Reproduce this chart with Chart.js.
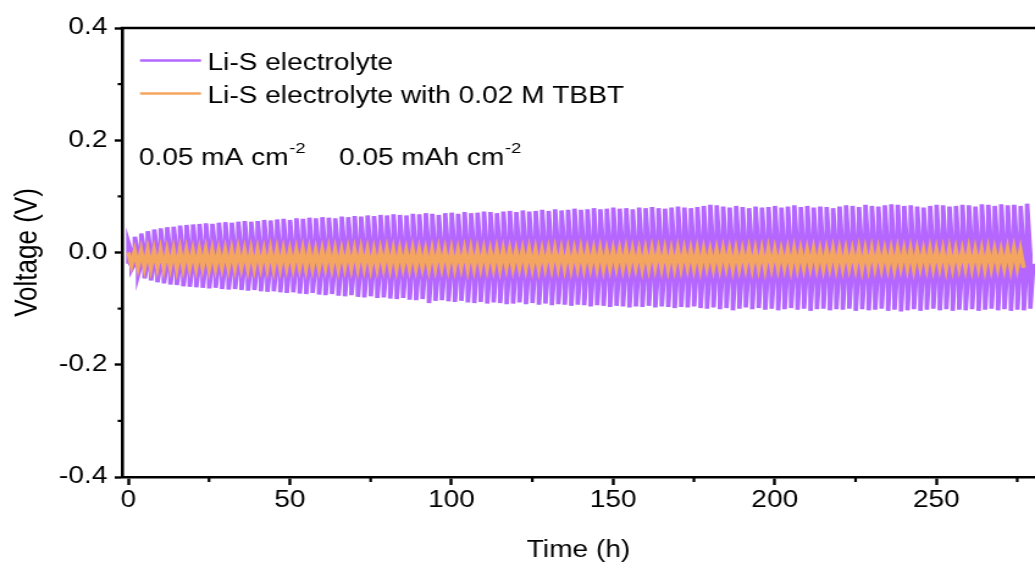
<!DOCTYPE html>
<html>
<head>
<meta charset="utf-8">
<script src="https://cdn.jsdelivr.net/npm/chart.js@4.4.1/dist/chart.umd.min.js"></script>
<style>
  html, body { margin: 0; padding: 0; background: #fff; overflow: hidden; }
  /* the figure is drawn narrow and stretched out sideways */
  #wrap { width: 848px; height: 568px; transform: scaleX(1.2205); transform-origin: 0 0; }
</style>
</head>
<body>
<div id="wrap"><canvas id="voltage-chart" width="848" height="568"></canvas></div>
<script>
'use strict';

// Series names
let seriesNames = ['Li-S electrolyte', 'Li-S electrolyte with 0.02 M TBBT'];

// Axis ticks
let timeTicks = [0, 50, 100, 150, 200, 250];
let timeMinorTicks = [25, 75, 125, 175, 225, 275];
let voltageTicks = [-0.4, -0.2, 0.0, 0.2, 0.4];
let voltageMinorTicks = [-0.3, -0.1, 0.1, 0.3];

// one cycle = 1 h charge + 1 h discharge
let hoursPerStep = 1;

// Li-S electrolyte: peak voltage of every charge step (V)
let purpleTop = [
  0.018, 0.028, 0.034, 0.038, 0.041, 0.043, 0.045, 0.046, 0.048, 0.049,
  0.050, 0.051, 0.052, 0.051, 0.053, 0.054, 0.053, 0.055, 0.056, 0.055,
  0.056, 0.058, 0.057, 0.059, 0.060, 0.058, 0.061, 0.060, 0.062, 0.061,
  0.063, 0.062, 0.061, 0.064, 0.063, 0.065, 0.064, 0.066, 0.065, 0.067,
  0.066, 0.068, 0.067, 0.066, 0.069, 0.068, 0.070, 0.069, 0.067, 0.070,
  0.071, 0.069, 0.072, 0.070, 0.071, 0.073, 0.072, 0.070, 0.073, 0.074,
  0.072, 0.075, 0.073, 0.074, 0.076, 0.074, 0.077, 0.075, 0.076, 0.078,
  0.076, 0.077, 0.079, 0.077, 0.078, 0.080, 0.078, 0.079, 0.077, 0.080,
  0.079, 0.081, 0.079, 0.078, 0.080, 0.082, 0.080, 0.079, 0.081, 0.083,
  0.085, 0.084, 0.082, 0.080, 0.083, 0.081, 0.079, 0.082, 0.080, 0.081,
  0.083, 0.080, 0.082, 0.084, 0.081, 0.083, 0.080, 0.082, 0.081, 0.079,
  0.082, 0.084, 0.083, 0.081, 0.085, 0.083, 0.082, 0.084, 0.086, 0.085,
  0.083, 0.084, 0.082, 0.080, 0.083, 0.085, 0.084, 0.082, 0.083, 0.085,
  0.084, 0.082, 0.086, 0.085, 0.083, 0.086, 0.084, 0.085, 0.083, 0.087
];

// Li-S electrolyte: peak voltage of every discharge step (V)
let purpleBottom = [
  -0.030, -0.040, -0.046, -0.050, -0.053, -0.055, -0.057, -0.058, -0.060, -0.061,
  -0.062, -0.063, -0.064, -0.063, -0.065, -0.066, -0.065, -0.067, -0.068, -0.067,
  -0.069, -0.070, -0.069, -0.071, -0.072, -0.071, -0.073, -0.074, -0.072, -0.075,
  -0.076, -0.074, -0.077, -0.078, -0.076, -0.079, -0.080, -0.078, -0.081, -0.080,
  -0.082, -0.083, -0.081, -0.084, -0.085, -0.083, -0.090, -0.086, -0.085, -0.087,
  -0.088, -0.086, -0.089, -0.090, -0.088, -0.091, -0.089, -0.090, -0.092, -0.091,
  -0.089, -0.092, -0.090, -0.093, -0.091, -0.094, -0.092, -0.093, -0.095, -0.093,
  -0.094, -0.096, -0.094, -0.095, -0.097, -0.095, -0.096, -0.098, -0.096, -0.097,
  -0.095, -0.098, -0.096, -0.097, -0.099, -0.097, -0.098, -0.096, -0.099, -0.100,
  -0.098, -0.101, -0.099, -0.103, -0.100, -0.098, -0.101, -0.099, -0.102, -0.100,
  -0.103, -0.101, -0.099, -0.102, -0.100, -0.104, -0.101, -0.100, -0.103, -0.101,
  -0.102, -0.100, -0.104, -0.101, -0.103, -0.102, -0.100, -0.104, -0.102, -0.105,
  -0.103, -0.101, -0.104, -0.102, -0.100, -0.103, -0.101, -0.104, -0.102, -0.103,
  -0.101, -0.104, -0.102, -0.100, -0.103, -0.101, -0.104, -0.102, -0.103, -0.100
];

// Li-S electrolyte: voltage each step relaxes to (V)
let purpleRestHigh = 0.0;
let purpleRestLow = -0.02;

// with 0.02 M TBBT: charge / discharge voltage of every cycle (V)
let orangeHigh = [
  0.000, 0.002, 0.003, 0.004, 0.003, 0.004, 0.003, 0.004, 0.005, 0.004,
  0.003, 0.004, 0.005, 0.004, 0.003, 0.004, 0.004, 0.005, 0.003, 0.004,
  0.004, 0.003, 0.005, 0.004, 0.004, 0.003, 0.004, 0.005, 0.004, 0.003,
  0.004, 0.005, 0.004, 0.003, 0.004, 0.004, 0.005, 0.004, 0.003, 0.004,
  0.005, 0.004, 0.004, 0.003, 0.005, 0.004, 0.003, 0.004, 0.005, 0.004,
  0.004, 0.003, 0.004, 0.005, 0.004, 0.004, 0.003, 0.005, 0.004, 0.004,
  0.003, 0.004, 0.005, 0.004, 0.003, 0.004, 0.005, 0.004, 0.004, 0.003,
  0.005, 0.004, 0.004, 0.005, 0.003, 0.004, 0.004, 0.005, 0.004, 0.003,
  0.004, 0.005, 0.004, 0.004, 0.003, 0.005, 0.004, 0.004, 0.005, 0.004,
  0.003, 0.004, 0.005, 0.004, 0.004, 0.003, 0.005, 0.004, 0.004, 0.005,
  0.004, 0.003, 0.004, 0.005, 0.004, 0.004, 0.005, 0.003, 0.004, 0.005,
  0.004, 0.004, 0.003, 0.005, 0.004, 0.005, 0.004, 0.003, 0.004, 0.005,
  0.004, 0.005, 0.004, 0.003, 0.005, 0.004, 0.004, 0.005, 0.004, 0.003,
  0.005, 0.004, 0.004, 0.005, 0.004, 0.003, 0.005, 0.006, 0.004
];
let orangeLow = [
  -0.022, -0.025, -0.026, -0.027, -0.026, -0.027, -0.026, -0.028, -0.027, -0.026,
  -0.027, -0.026, -0.028, -0.027, -0.026, -0.027, -0.027, -0.026, -0.028, -0.027,
  -0.026, -0.027, -0.028, -0.027, -0.026, -0.027, -0.026, -0.028, -0.027, -0.027,
  -0.026, -0.027, -0.028, -0.026, -0.027, -0.027, -0.026, -0.028, -0.027, -0.026,
  -0.027, -0.028, -0.026, -0.027, -0.027, -0.026, -0.028, -0.027, -0.026, -0.027,
  -0.027, -0.026, -0.028, -0.027, -0.026, -0.027, -0.027, -0.028, -0.026, -0.027,
  -0.026, -0.027, -0.027, -0.028, -0.026, -0.027, -0.026, -0.027, -0.028, -0.027,
  -0.027, -0.026, -0.027, -0.028, -0.027, -0.026, -0.027, -0.027, -0.026, -0.028,
  -0.027, -0.026, -0.027, -0.028, -0.027, -0.027, -0.026, -0.027, -0.028, -0.026,
  -0.027, -0.027, -0.026, -0.028, -0.027, -0.026, -0.027, -0.027, -0.028, -0.026,
  -0.027, -0.026, -0.028, -0.027, -0.027, -0.026, -0.027, -0.028, -0.026, -0.027,
  -0.027, -0.026, -0.027, -0.028, -0.027, -0.026, -0.027, -0.027, -0.028, -0.026,
  -0.027, -0.028, -0.026, -0.027, -0.027, -0.026, -0.028, -0.027, -0.026, -0.027,
  -0.027, -0.026, -0.028, -0.027, -0.026, -0.027, -0.028, -0.026, -0.027
];

let purpleColor = 'rgb(180, 102, 255)';
let orangeColor = 'rgb(244, 166, 96)';
let fontFamily = '"Liberation Sans", Arial, Helvetica, sans-serif';

// build the voltage trace: jump to the step peak, relax over the hour
function buildPurple(){
  let pts = [];
  for (let i = 0; i < purpleTop.length; i++){
    let t0 = i * 2 * hoursPerStep;
    pts.push({x: t0, y: purpleRestLow});
    pts.push({x: t0 + 0.05, y: purpleTop[i]});
    pts.push({x: t0 + hoursPerStep, y: purpleRestHigh});
    pts.push({x: t0 + hoursPerStep + 0.05, y: purpleBottom[i]});
  }
  pts.push({x: purpleTop.length * 2 * hoursPerStep, y: purpleRestLow});
  return pts;
}

function buildOrange(){
  let pts = [];
  for (let i = 0; i < orangeHigh.length; i++){
    let t0 = i * 2 * hoursPerStep;
    pts.push({x: t0, y: orangeHigh[i]});
    pts.push({x: t0 + hoursPerStep, y: orangeLow[i]});
  }
  return pts;
}

// top spine, minor ticks, legend and the current / capacity note
let decorPlugin = {
  id: 'decor',
  afterDraw(chart){
    let ctx = chart.ctx;
    let area = chart.chartArea;
    let xs = chart.scales.x;
    let ys = chart.scales.y;
    ctx.save();
    ctx.strokeStyle = '#000';
    ctx.lineWidth = 2.6;
    ctx.beginPath();
    ctx.moveTo(area.left - 1.3, area.top);
    ctx.lineTo(area.right, area.top);
    ctx.stroke();

    ctx.lineWidth = 2.2;
    timeMinorTicks.forEach(function(v){
      let px = xs.getPixelForValue(v);
      ctx.beginPath();
      ctx.moveTo(px, area.bottom);
      ctx.lineTo(px, area.bottom + 5);
      ctx.stroke();
    });
    voltageMinorTicks.forEach(function(v){
      let py = ys.getPixelForValue(v);
      ctx.beginPath();
      ctx.moveTo(area.left, py);
      ctx.lineTo(area.left - 3.6, py);
      ctx.stroke();
    });

    // legend
    ctx.lineWidth = 2.6;
    ctx.strokeStyle = purpleColor;
    ctx.beginPath(); ctx.moveTo(114.7, 60.5); ctx.lineTo(164.7, 60.5); ctx.stroke();
    ctx.strokeStyle = orangeColor;
    ctx.beginPath(); ctx.moveTo(114.7, 93.5); ctx.lineTo(164.7, 93.5); ctx.stroke();
    ctx.fillStyle = '#000';
    ctx.font = '23px ' + fontFamily;
    ctx.textBaseline = 'alphabetic';
    ctx.textAlign = 'left';
    ctx.fillText(seriesNames[0], 170, 69.5);
    ctx.fillText(seriesNames[1], 170, 102.5);

    // test conditions
    function withSup(text, sup, x, y){
      ctx.font = '23px ' + fontFamily;
      ctx.fillText(text, x, y);
      let w = ctx.measureText(text).width;
      ctx.font = '15px ' + fontFamily;
      ctx.fillText(sup, x + w + 0.5, y - 12);
    }
    withSup('0.05 mA cm', '-2', 113.7, 165);
    withSup('0.05 mAh cm', '-2', 277.7, 165);
    ctx.restore();
  }
};

const ctx = document.getElementById('voltage-chart').getContext('2d');

let chartData = {
  type: 'line',
  data: {
    datasets: [{
      label: seriesNames[0],
      data: buildPurple(),
      borderColor: purpleColor,
      borderWidth: 3.7,
      pointRadius: 0,
      tension: 0,
      order: 2
    },
    {
      label: seriesNames[1],
      data: buildOrange(),
      borderColor: orangeColor,
      borderWidth: 3.6,
      pointRadius: 0,
      tension: 0,
      order: 1
    }]
  },
  options: {
    responsive: false,
    animation: false,
    devicePixelRatio: 1,
    layout: { padding: { top: 28, right: 0, left: 0, bottom: 0 } },
    plugins: { legend: { display: false }, tooltip: { enabled: false } },
    scales: {
      x: {
        type: 'linear',
        min: -1.9,
        max: 280.5,
        afterFit: function(scale){ scale.height = 91; },
        afterBuildTicks: function(scale){
          scale.ticks = timeTicks.map(function(v){ return {value: v}; });
        },
        border: { display: true, color: '#000', width: 2.6 },
        grid: { drawOnChartArea: false, drawTicks: true, tickLength: 8, tickWidth: 2.4, tickColor: '#000' },
        ticks: {
          color: '#000',
          padding: 2,
          maxRotation: 0,
          font: { family: fontFamily, size: 23 },
          callback: function(v){ return String(v); }
        },
        title: {
          display: true,
          text: 'Time (h)',
          color: '#000',
          font: { family: fontFamily, size: 23 },
          padding: { top: 0, bottom: 4 }
        }
      },
      y: {
        min: -0.4,
        max: 0.4,
        afterFit: function(scale){ scale.width = 100; },
        afterBuildTicks: function(scale){
          scale.ticks = voltageTicks.map(function(v){ return {value: v}; });
        },
        border: { display: true, color: '#000', width: 2.6 },
        grid: { drawOnChartArea: false, drawTicks: true, tickLength: 6, tickWidth: 2.4, tickColor: '#000' },
        ticks: {
          color: '#000',
          padding: 6,
          font: { family: fontFamily, size: 23 },
          callback: function(v){ return v.toFixed(1); }
        },
        title: {
          display: true,
          text: 'Voltage (V)',
          color: '#000',
          font: { family: fontFamily, size: 26 },
          padding: { top: 7, bottom: 0 }
        }
      }
    }
  },
  plugins: [decorPlugin]
};

new Chart(ctx, chartData);
</script>
</body>
</html>
